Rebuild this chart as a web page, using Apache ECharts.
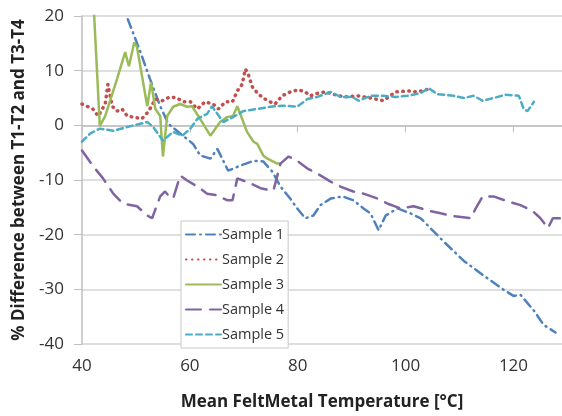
<!DOCTYPE html>
<html>
<head>
<meta charset="UTF-8">
<title>% Difference between T1-T2 and T3-T4</title>
<script src="https://cdn.jsdelivr.net/npm/echarts@6/dist/echarts.min.js"></script>
<style>
  html, body { margin: 0; padding: 0; background: #fff; }
  #chart { width: 562px; height: 416px; }
</style>
</head>
<body>
<div id="chart"></div>
<script>
// temperatures (x) and % differences (y)
const s1x = [48.5, 50.8, 52.6, 54.5, 56.0, 58.2, 60.6, 61.9, 63.8, 65.1, 67.1, 69.3, 71.8, 73.6, 75.3, 76.8, 78.6, 79.9, 81.4, 82.9, 84.2, 86.1, 88.3, 90.3, 92.2, 93.5, 95.0, 96.3, 98.5, 100.9, 102.8, 107.0, 110.8, 114.5, 118.2, 120.0, 121.3, 123.8, 125.6, 127.8];
const s1y = [19.4, 13.5, 8.5, 3.5, 0.3, -1.5, -3.4, -5.5, -6.1, -4.3, -8.3, -7.4, -6.5, -6.6, -8.5, -11.2, -13.4, -15.2, -17.0, -16.5, -14.6, -13.4, -13.0, -13.7, -15.2, -16.1, -19.2, -16.5, -15.2, -16.1, -17.0, -21.2, -24.8, -27.5, -30.1, -31.2, -31.0, -33.9, -36.5, -37.9];

const s2x = [40.0, 42.0, 43.0, 44.3, 44.6, 44.8, 45.6, 46.5, 47.4, 48.4, 49.5, 51.1, 52.3, 53.6, 54.9, 56.3, 57.6, 58.8, 60.1, 61.4, 62.8, 64.3, 65.3, 66.6, 67.9, 68.8, 69.7, 70.3, 70.8, 71.6, 72.7, 74.4, 75.8, 77.1, 78.6, 80.1, 81.4, 82.3, 83.8, 85.1, 88.5, 91.1, 93.5, 95.9, 98.1, 100.5, 102.2, 104.1];
const s2y = [3.9, 3.0, 1.7, 3.9, 6.1, 7.5, 3.5, 2.6, 3.0, 1.7, 1.5, 1.2, 2.5, 4.8, 4.5, 5.2, 5.0, 4.3, 4.3, 3.0, 4.3, 3.9, 3.0, 4.3, 4.3, 6.3, 7.5, 10.3, 9.4, 7.0, 5.7, 4.5, 3.9, 5.4, 6.1, 6.5, 6.1, 5.4, 5.9, 6.1, 5.2, 5.4, 5.0, 4.5, 6.1, 6.3, 6.1, 6.6];

const s3x = [42.0, 43.3, 44.3, 46.5, 48.0, 48.7, 49.7, 50.2, 52.1, 52.8, 53.6, 54.5, 55.0, 55.8, 56.9, 58.2, 59.5, 60.4, 61.9, 63.8, 65.6, 66.9, 68.0, 68.8, 70.6, 71.8, 72.5, 73.6, 74.4, 76.2, 76.8];
const s3y = [25.0, -0.1, 1.7, 8.5, 13.4, 10.8, 15.2, 14.3, 3.5, 7.9, 3.0, 1.7, -5.7, 1.7, 3.4, 3.9, 3.4, 3.5, 1.2, -1.9, 0.6, 1.5, 1.7, 3.5, -1.2, -3.0, -3.4, -5.5, -6.1, -7.0, -7.0];

const s4x = [40.0, 42.0, 43.9, 45.8, 47.6, 50.2, 52.1, 53.0, 54.5, 55.4, 56.0, 56.9, 58.2, 59.5, 61.4, 63.2, 65.1, 66.9, 67.9, 68.8, 71.2, 73.1, 74.9, 75.5, 76.8, 78.3, 79.9, 81.8, 83.6, 86.1, 87.9, 90.3, 92.2, 94.8, 96.6, 99.1, 101.5, 104.6, 106.5, 108.9, 112.1, 113.0, 114.3, 116.3, 118.9, 121.3, 123.6, 125.0, 126.4, 127.3, 128.8];
const s4y = [-4.6, -7.4, -9.7, -12.5, -14.3, -14.8, -16.5, -17.0, -13.0, -12.1, -12.8, -13.4, -9.2, -10.1, -11.2, -12.5, -12.8, -13.7, -13.7, -9.7, -10.6, -11.5, -11.9, -11.9, -7.0, -5.7, -6.5, -7.9, -8.8, -10.3, -11.2, -12.1, -12.5, -13.4, -14.3, -15.2, -14.8, -15.7, -16.1, -16.6, -17.0, -15.2, -13.0, -13.0, -13.9, -14.6, -15.7, -17.0, -18.8, -17.0, -17.0];

const s5x = [40.0, 41.5, 43.3, 45.8, 48.4, 50.8, 52.1, 53.2, 55.0, 56.9, 58.6, 60.1, 61.4, 63.2, 64.1, 65.1, 66.2, 68.0, 69.9, 72.5, 74.9, 77.3, 79.9, 81.8, 83.6, 86.1, 87.9, 90.1, 91.3, 93.5, 95.9, 98.1, 100.4, 102.8, 104.3, 105.9, 108.9, 110.8, 112.6, 114.3, 116.3, 118.6, 121.0, 121.9, 122.6, 123.8];
const s5y = [-3.0, -1.5, -0.6, -1.0, -0.3, 0.3, 0.6, -0.3, -2.8, -1.2, -1.9, -0.6, 1.2, 2.1, 3.5, 2.1, 0.6, 1.5, 2.6, 3.0, 3.4, 3.6, 3.4, 4.8, 5.2, 6.1, 5.2, 5.2, 4.5, 5.4, 5.4, 5.2, 5.4, 5.9, 6.8, 5.7, 5.4, 5.0, 5.4, 4.5, 5.0, 5.6, 5.4, 3.0, 2.6, 4.3];

const seriesNames = ['Sample 1', 'Sample 2', 'Sample 3', 'Sample 4', 'Sample 5'];
const xTicks = [40, 60, 80, 100, 120];
const yTicks = [-40, -30, -20, -10, 0, 10, 20];

function pairs(xs, ys) {
  return xs.map((x, i) => [x, ys[i]]);
}

const chart = echarts.init(document.getElementById('chart'));

const font = '"Open Sans", "DejaVu Sans", sans-serif';

function lineSeries(name, xs, ys, color, type, width) {
  return {
    name: name,
    type: 'line',
    symbol: 'none',
    data: pairs(xs, ys),
    clip: true,
    lineStyle: { color: color, width: width || 2.5, type: type, cap: 'round' },
    itemStyle: { color: color }
  };
}

const option = {
  animation: false,
  backgroundColor: '#fff',
  textStyle: { fontFamily: font },
  grid: { left: 82, right: 0, top: 16, bottom: 68 },
  xAxis: {
    type: 'value',
    min: xTicks[0],
    max: 129,
    interval: 20,
    name: 'Mean FeltMetal Temperature [°C]',
    nameLocation: 'middle',
    nameGap: 50,
    nameTextStyle: { fontSize: 17, fontWeight: 'bold', color: '#222', fontFamily: font },
    axisLine: { show: true, lineStyle: { color: '#bfbfbf', width: 1.5 } },
    axisTick: { show: true, length: 7, customValues: xTicks, lineStyle: { color: '#bfbfbf' } },
    axisLabel: { fontSize: 17, color: '#333', margin: 14, fontFamily: font, customValues: xTicks },
    splitLine: { show: false }
  },
  yAxis: {
    type: 'value',
    min: yTicks[0],
    max: yTicks[yTicks.length - 1],
    interval: 10,
    name: '% Difference between T1-T2 and T3-T4',
    nameLocation: 'middle',
    nameGap: 54,
    nameTextStyle: { fontSize: 17, fontWeight: 'bold', color: '#222', fontFamily: font },
    axisLine: { show: true, lineStyle: { color: '#bfbfbf', width: 1.5 } },
    axisTick: { show: true, length: 8, lineStyle: { color: '#bfbfbf' } },
    axisLabel: { fontSize: 17, color: '#333', margin: 18, fontFamily: font },
    splitLine: { show: true, lineStyle: { color: '#d4d4d4', width: 1.5 } }
  },
  legend: {
    orient: 'vertical',
    left: 181,
    top: 221,
    padding: [6, 4, 6, 4],
    itemWidth: 35,
    itemHeight: 12,
    itemGap: 10,
    backgroundColor: '#fff',
    borderColor: '#c8c8c8',
    borderWidth: 1,
    itemStyle: { opacity: 0 },
    textStyle: { fontSize: 14.5, color: '#333', padding: [0, 0, 0, -4], fontFamily: font },
    data: seriesNames
  },
  series: [
    lineSeries(seriesNames[0], s1x, s1y, '#4F81BD', [9, 5, 1, 5]),
    lineSeries(seriesNames[1], s2x, s2y, '#C0504D', [0.5, 5.5], 3.5),
    lineSeries(seriesNames[2], s3x, s3y, '#9BBB59', 'solid'),
    lineSeries(seriesNames[3], s4x, s4y, '#8064A2', [15, 9]),
    lineSeries(seriesNames[4], s5x, s5y, '#4BACC6', [6, 4])
  ]
};

chart.setOption(option);
</script>
</body>
</html>
